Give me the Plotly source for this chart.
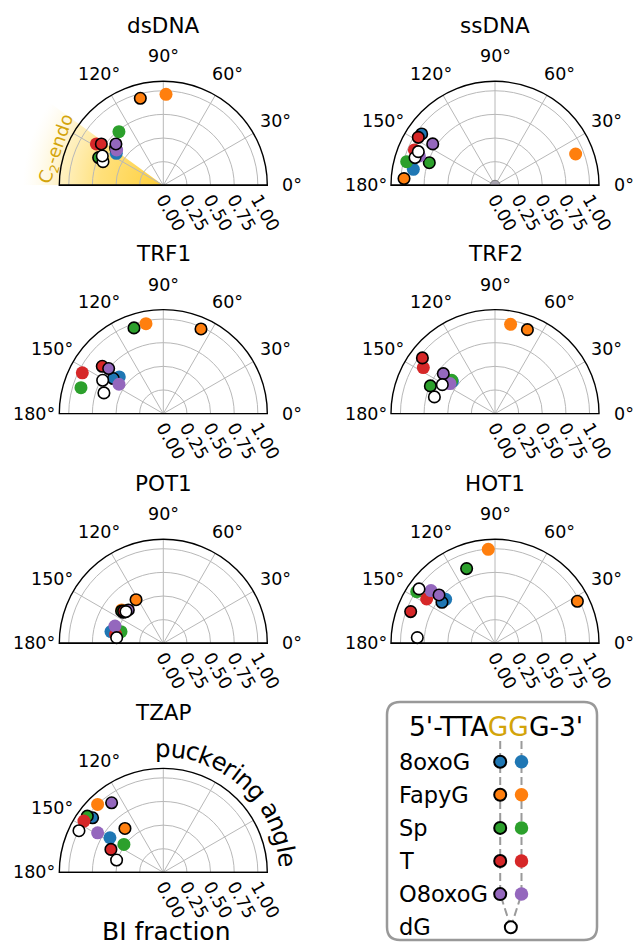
import base64
import math
import plotly.graph_objects as go

W, H = 633, 945
R_PX = 104.0          # polar radius in pixels
R_MAX = 1.1           # radial range upper bound
FONT = "DejaVu Sans"
GOLD = "#d3a40a"
GRID = "#b8b8b8"

MODS = ["8oxoG", "FapyG", "Sp", "T", "O8oxoG", "dG"]
MOD_COLORS = ["#1f77b4", "#ff7f0e", "#2ca02c", "#d62728", "#9467bd", "#ffffff"]
PANELS = ["dsDNA", "ssDNA", "TRF1", "TRF2", "POT1", "HOT1", "TZAP"]
ANGLE_TICKS = [0, 30, 60, 90, 120, 150, 180]
BI_TICKS = [0.0, 0.25, 0.5, 0.75, 1.0]
BI_TICKTEXT = ["0.00", "0.25", "0.50", "0.75", "1.00"]

# puckering angle (deg) / BI fraction, order of MODS; g1 = lesion at first G, g2 = second G
dsDNA_g1_angle = [142.0, 104.8, 156.8, 146.3, 138.9, 154.3]
dsDNA_g1_bi = [0.640, 0.952, 0.744, 0.788, 0.665, 0.716]
dsDNA_g2_angle = [145.8, 88.3, 129.6, 148.3, 142.9, 158.6]
dsDNA_g2_bi = [0.601, 0.963, 0.736, 0.832, 0.619, 0.685]

ssDNA_g1_angle = [145.0, 175.8, 161.0, 148.0, 146.4, 156.3]
ssDNA_g1_bi = [0.947, 0.965, 0.735, 0.957, 0.791, 0.886]
ssDNA_g2_angle = [168.9, 21.2, 165.0, 156.3, 158.8, 160.9]
ssDNA_g2_bi = [0.880, 0.915, 0.967, 0.931, 0.858, 0.895]

TRF1_g1_angle = [145.0, 66.0, 108.9, 142.2, 140.5, 151.2]
TRF1_g1_bi = [0.646, 0.980, 0.958, 0.817, 0.749, 0.732]
TRF1_g2_angle = [140.2, 100.9, 162.5, 153.3, 146.5, 160.8]
TRF1_g2_bi = [0.606, 0.969, 0.913, 0.959, 0.562, 0.665]

TRF2_g1_angle = [146.0, 68.9, 156.8, 142.5, 142.3, 151.2]
TRF2_g1_bi = [0.580, 0.952, 0.744, 0.968, 0.691, 0.636]
TRF2_g2_angle = [143.0, 80.1, 142.4, 147.3, 146.3, 164.6]
TRF2_g2_bi = [0.565, 0.959, 0.578, 0.901, 0.572, 0.665]

POT1_g1_angle = [142.2, 122.0, 142.2, 141.0, 136.4, 139.7]
POT1_g1_bi = [0.535, 0.544, 0.558, 0.540, 0.511, 0.518]
POT1_g2_angle = [167.4, 141.3, 164.6, 169.3, 160.3, 173.1]
POT1_g2_bi = [0.567, 0.564, 0.464, 0.513, 0.543, 0.497]

HOT1_g1_angle = [142.3, 27.0, 110.8, 159.4, 139.2, 144.4]
HOT1_g1_bi = [0.709, 0.978, 0.845, 0.953, 0.782, 0.988]
HOT1_g2_angle = [138.3, 94.1, 146.6, 147.0, 140.5, 175.8]
HOT1_g2_bi = [0.699, 0.997, 0.992, 0.862, 0.877, 0.824]

TZAP_g1_angle = [142.3, 131.1, 143.5, 156.3, 126.6, 153.7]
TZAP_g1_bi = [0.945, 0.617, 1.000, 0.605, 0.917, 0.995]
TZAP_g2_angle = [147.0, 134.0, 144.6, 147.1, 148.9, 165.2]
TZAP_g2_bi = [0.673, 1.000, 0.511, 1.000, 0.811, 0.511]

ssDNA_origin_bi = [0.0]

DATA = {
    "dsDNA": (dsDNA_g1_angle, dsDNA_g1_bi, dsDNA_g2_angle, dsDNA_g2_bi),
    "ssDNA": (ssDNA_g1_angle, ssDNA_g1_bi, ssDNA_g2_angle, ssDNA_g2_bi),
    "TRF1": (TRF1_g1_angle, TRF1_g1_bi, TRF1_g2_angle, TRF1_g2_bi),
    "TRF2": (TRF2_g1_angle, TRF2_g1_bi, TRF2_g2_angle, TRF2_g2_bi),
    "POT1": (POT1_g1_angle, POT1_g1_bi, POT1_g2_angle, POT1_g2_bi),
    "HOT1": (HOT1_g1_angle, HOT1_g1_bi, HOT1_g2_angle, HOT1_g2_bi),
    "TZAP": (TZAP_g1_angle, TZAP_g1_bi, TZAP_g2_angle, TZAP_g2_bi),
}

# polar centre of each panel (pixels)
CENTERS = {
    "dsDNA": (163.3, 185.3), "ssDNA": (495.0, 185.3),
    "TRF1": (163.3, 413.6), "TRF2": (495.0, 413.6),
    "POT1": (163.3, 643.3), "HOT1": (495.0, 643.3),
    "TZAP": (163.3, 872.4),
}
SHOWN_TICKS = {p: ANGLE_TICKS for p in PANELS}
SHOWN_TICKS["dsDNA"] = [0, 30, 60, 90, 120]
SHOWN_TICKS["TZAP"] = [120, 150, 180]
TICK_LABEL_RADIUS = 129.0   # pixels from the centre to the label centre

fig = go.Figure()
annotations = []
images = []


def paper(px, py):
    return px / W, 1 - py / H


def on_circle(cx, cy, radius, deg):
    a = math.radians(deg)
    return paper(cx + radius * math.cos(a), cy - radius * math.sin(a))


for k, panel in enumerate(PANELS):
    pid = "polar" if k == 0 else f"polar{k + 1}"
    cx, cy = CENTERS[panel]
    x0, x1 = (cx - R_PX) / W, (cx + R_PX) / W
    y0, y1 = (H - cy) / H, (H - cy + R_PX) / H
    fig.update_layout({pid: dict(
        domain=dict(x=[x0, x1], y=[y0, y1]),
        sector=[0, 180],
        bgcolor="rgba(0,0,0,0)",
        angularaxis=dict(
            tickmode="array", tickvals=ANGLE_TICKS, showticklabels=False,
            ticks="", showgrid=True, gridcolor=GRID, gridwidth=1,
            showline=True, linecolor="black", linewidth=1.4,
            direction="counterclockwise", rotation=0,
        ),
        radialaxis=dict(
            range=[0, R_MAX], tickmode="array", tickvals=BI_TICKS,
            ticktext=BI_TICKTEXT, tickangle=60, angle=0, side="clockwise",
            showline=False, ticks="", showgrid=True, gridcolor=GRID,
            gridwidth=1, tickfont=dict(family=FONT, size=17.5, color="black"),
        ),
    )})

    # straight edges of the half disc
    for edge in (0, 180):
        fig.add_trace(go.Scatterpolar(
            r=[0, R_MAX], theta=[edge, edge], mode="lines",
            line=dict(color="black", width=1.4), subplot=pid,
            showlegend=False, hoverinfo="skip"))

    if panel == "ssDNA":
        fig.add_trace(go.Scatterpolar(
            r=ssDNA_origin_bi, theta=[90], mode="markers", subplot=pid,
            cliponaxis=True,
            marker=dict(size=10, color="#aaa6b2", line=dict(color="#808080", width=1)),
            showlegend=False))

    g1a, g1b, g2a, g2b = DATA[panel]
    for i, mod in enumerate(MODS):
        outline_g2 = mod == "dG"
        fig.add_trace(go.Scatterpolar(
            r=[g2b[i]], theta=[g2a[i]], mode="markers", subplot=pid,
            name=f"{mod} G2", showlegend=False,
            marker=dict(size=11.5 if outline_g2 else 13, color=MOD_COLORS[i],
                        line=dict(color="black", width=1.6 if outline_g2 else 0))))
        fig.add_trace(go.Scatterpolar(
            r=[g1b[i]], theta=[g1a[i]], mode="markers", subplot=pid,
            name=f"{mod} G1", showlegend=False,
            marker=dict(size=11.5, color=MOD_COLORS[i],
                        line=dict(color="black", width=1.6))))

    # angular tick labels, centred on a circle outside the rim
    for t in SHOWN_TICKS[panel]:
        tx, ty = on_circle(cx, cy, TICK_LABEL_RADIUS, t)
        annotations.append(dict(x=tx, y=ty, xref="paper", yref="paper", text=f"{t}°",
                                showarrow=False, xanchor="center", yanchor="middle",
                                font=dict(family=FONT, size=17.5, color="black")))

    tx, ty = paper(cx, cy - 160)
    annotations.append(dict(x=tx, y=ty, xref="paper", yref="paper", text=panel,
                            showarrow=False, xanchor="center", yanchor="middle",
                            font=dict(family=FONT, size=21.5, color="black")))

# C2'-endo region on the dsDNA panel
cx, cy = CENTERS["dsDNA"]
RG = 1.35 * R_PX
a0 = math.radians(144)
svg = f"""<svg xmlns="http://www.w3.org/2000/svg" width="{2*RG:.1f}" height="{RG:.1f}" viewBox="{-RG:.2f} {-RG:.2f} {2*RG:.2f} {RG:.2f}">
<defs><radialGradient id="g" cx="0" cy="0" r="{RG:.2f}" gradientUnits="userSpaceOnUse">
<stop offset="0" stop-color="#ffcc2e" stop-opacity="0.95"/>
<stop offset="0.45" stop-color="#ffd447" stop-opacity="0.72"/>
<stop offset="0.74" stop-color="#ffde70" stop-opacity="0.42"/>
<stop offset="1" stop-color="#fff2c8" stop-opacity="0"/>
</radialGradient></defs>
<path d="M0,0 L{-RG:.2f},0 A{RG:.2f},{RG:.2f} 0 0 1 {RG*math.cos(a0):.2f},{-RG*math.sin(a0):.2f} Z" fill="url(#g)"/>
</svg>"""
images.append(dict(
    source="data:image/svg+xml;base64," + base64.b64encode(svg.encode()).decode(),
    xref="paper", yref="paper", x=(cx - RG) / W, y=1 - (cy - RG) / H,
    sizex=2 * RG / W, sizey=RG / H, xanchor="left", yanchor="top",
    sizing="stretch", layer="below"))

tx, ty = on_circle(cx, cy, 113, 161)
annotations.append(dict(x=tx, y=ty, xref="paper", yref="paper",
                        text="C<sub>2</sub>-endo", textangle=-71, showarrow=False,
                        xanchor="center", yanchor="middle",
                        font=dict(family=FONT, size=18, color=GOLD)))

# axis names on the TZAP panel
cx, cy = CENTERS["TZAP"]
ADV = {"p": .635, "u": .634, "c": .550, "k": .579, "e": .615, "r": .411, "i": .278,
       "n": .634, "g": .635, " ": .318, "a": .613, "l": .278}
arc_label = "puckering angle"
fs, rc, mid = 24.5, 124.0, 48.0
total = sum(ADV[ch] for ch in arc_label) * fs
s = 0.0
for ch in arc_label:
    w = ADV[ch] * fs
    sc = s + w / 2 - total / 2
    s += w
    if ch == " ":
        continue
    ang = mid - math.degrees(sc / rc)
    tx, ty = on_circle(cx, cy, rc, ang)
    annotations.append(dict(x=tx, y=ty, xref="paper", yref="paper", text=ch,
                            textangle=90 - ang, showarrow=False,
                            xanchor="center", yanchor="middle",
                            font=dict(family=FONT, size=fs, color="black")))

tx, ty = paper(166, 931)
annotations.append(dict(x=tx, y=ty, xref="paper", yref="paper", text="BI fraction",
                        showarrow=False, xanchor="center", yanchor="middle",
                        font=dict(family=FONT, size=25, color="black")))

# key: sequence with the two lesion sites
LX0, LX1, LY0, LY1 = 380, 633, 695, 945
fig.update_layout(
    xaxis=dict(domain=[LX0 / W, 1], range=[LX0, LX1], visible=False, fixedrange=True),
    yaxis=dict(domain=[0, (LY1 - LY0) / H], range=[LY1, LY0], visible=False, fixedrange=True),
)
row0, drow = 761.7, 33.1
xg1, xg2 = 500.2, 521.5
xdg = (xg1 + xg2) / 2
rows = [row0 + i * drow for i in range(len(MODS))]
for xg in (xg1, xg2):
    fig.add_trace(go.Scatter(
        x=[xg, xg, xdg], y=[741, rows[-2], rows[-1]], mode="lines",
        line=dict(color="#9a9a9a", width=2, dash="8px,4px"),
        showlegend=False, hoverinfo="skip"))
for i, mod in enumerate(MODS):
    if mod == "dG":
        fig.add_trace(go.Scatter(
            x=[xdg], y=[rows[i]], mode="markers", showlegend=False,
            marker=dict(size=12, color="white", line=dict(color="black", width=2))))
    else:
        fig.add_trace(go.Scatter(
            x=[xg1], y=[rows[i]], mode="markers", showlegend=False,
            marker=dict(size=12, color=MOD_COLORS[i], line=dict(color="black", width=2))))
        fig.add_trace(go.Scatter(
            x=[xg2], y=[rows[i]], mode="markers", showlegend=False,
            marker=dict(size=13.5, color=MOD_COLORS[i], line=dict(width=0))))
    annotations.append(dict(x=397, y=rows[i], xref="x", yref="y", text=mod,
                            showarrow=False, xanchor="left", yanchor="middle",
                            font=dict(family=FONT, size=22.5, color="black")))

annotations.append(dict(
    x=495.7, y=726, xref="x", yref="y", showarrow=False,
    xanchor="center", yanchor="middle",
    text=f"5'-TTA<span style='color:{GOLD}'>GG</span>G-3'",
    font=dict(family=FONT, size=26.5, color="black")))

bx0, bx1, by0, by1, rad = 387, 597, 702, 940, 13
box = (f"M{bx0+rad},{by0} L{bx1-rad},{by0} Q{bx1},{by0} {bx1},{by0+rad} "
       f"L{bx1},{by1-rad} Q{bx1},{by1} {bx1-rad},{by1} L{bx0+rad},{by1} "
       f"Q{bx0},{by1} {bx0},{by1-rad} L{bx0},{by0+rad} Q{bx0},{by0} {bx0+rad},{by0} Z")

fig.update_layout(
    width=W, height=H, autosize=False,
    margin=dict(l=0, r=0, t=0, b=0),
    paper_bgcolor="white", plot_bgcolor="rgba(0,0,0,0)",
    font=dict(family=FONT, color="black"),
    showlegend=False,
    annotations=annotations,
    images=images,
    shapes=[dict(type="path", path=box, xref="x", yref="y",
                 line=dict(color="#999999", width=2.5), layer="below")],
)

fig.write_html("out.html")
